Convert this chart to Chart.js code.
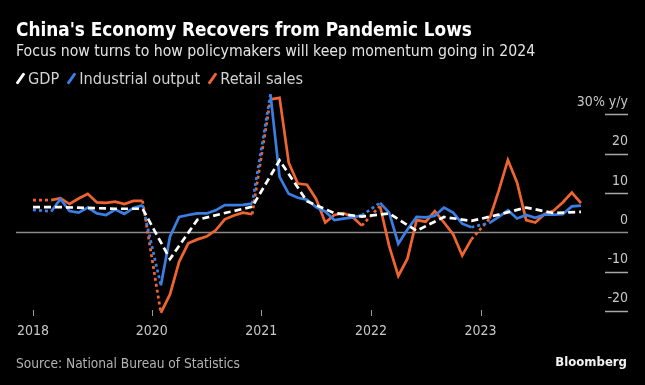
<!DOCTYPE html>
<html lang="en">
<head>
<meta charset="UTF-8">
<title>China's Economy Recovers from Pandemic Lows</title>
<script src="https://cdn.jsdelivr.net/npm/chart.js@4"></script>
<style>
  html, body { margin: 0; padding: 0; background: #000; }
  .frame { position: relative; width: 645px; height: 385px; overflow: hidden; background: #000;
           font-family: "DejaVu Sans Condensed", "DejaVu Sans", sans-serif; }
  .frame canvas { position: absolute; left: 0; top: 0; }
  .txt { position: absolute; white-space: nowrap; }
  .title { left: 16px; top: 19px; font-size: 18.8px; line-height: 22px; font-weight: bold; color: #fff; }
  .subtitle { left: 16px; top: 42px; font-size: 15.7px; line-height: 18px; color: #e4e4e4; }
  .legend { left: 16px; top: 70px; font-size: 16.2px; line-height: 18px; color: #d2d2d2; }
  .legend .item { margin-right: 8px; }
  .legend .swatch { display: inline-block; width: 3px; height: 13px; margin: 0 6px 0 3px;
                    transform: rotate(35deg); vertical-align: -1px; border-radius: 1px; }
  .source { left: 16px; top: 355px; font-size: 13.6px; line-height: 16px; color: #b4b4b4; }
  .brand { right: 18px; top: 354px; font-size: 13px; line-height: 16px; font-weight: bold; color: #f2f2f2; }
</style>
</head>
<body>
<div class="frame">
  <canvas id="chart" width="645" height="385"></canvas>
  <div class="txt title">China's Economy Recovers from Pandemic Lows</div>
  <div class="txt subtitle">Focus now turns to how policymakers will keep momentum going in 2024</div>
  <div class="txt legend" id="legend"></div>
  <div class="txt source">Source: National Bureau of Statistics</div>
  <div class="txt brand">Bloomberg</div>
</div>
<script>
// monthly y/y % change; Jan is folded into the combined Jan-Feb release, so it stays empty
const months = [
  '2018-12',
  '2019-01', '2019-02', '2019-03', '2019-04', '2019-05', '2019-06', '2019-07', '2019-08', '2019-09', '2019-10', '2019-11', '2019-12',
  '2020-01', '2020-02', '2020-03', '2020-04', '2020-05', '2020-06', '2020-07', '2020-08', '2020-09', '2020-10', '2020-11', '2020-12',
  '2021-01', '2021-02', '2021-03', '2021-04', '2021-05', '2021-06', '2021-07', '2021-08', '2021-09', '2021-10', '2021-11', '2021-12',
  '2022-01', '2022-02', '2022-03', '2022-04', '2022-05', '2022-06', '2022-07', '2022-08', '2022-09', '2022-10', '2022-11', '2022-12',
  '2023-01', '2023-02', '2023-03', '2023-04', '2023-05', '2023-06', '2023-07', '2023-08', '2023-09', '2023-10', '2023-11', '2023-12'
];

const industrialOutput = [
  5.7,
  null, 5.3, 8.5, 5.4, 5.0, 6.3, 4.8, 4.4, 5.8, 4.7, 6.2, 6.9,
  null, -13.5, -1.1, 3.9, 4.4, 4.8, 4.8, 5.6, 6.9, 6.9, 7.0, 7.3,
  null, 35.1, 14.1, 9.8, 8.8, 8.3, 6.4, 5.3, 3.1, 3.5, 3.8, 4.3,
  null, 7.5, 5.0, -2.9, 0.7, 3.9, 3.8, 4.2, 6.3, 5.0, 2.2, 1.3,
  null, 2.4, 3.9, 5.6, 3.5, 4.4, 3.7, 4.5, 4.5, 4.6, 6.6, 6.8
];

const retailSales = [
  8.2,
  null, 8.2, 8.7, 7.2, 8.6, 9.8, 7.6, 7.5, 7.8, 7.2, 8.0, 8.0,
  null, -20.5, -15.8, -7.5, -2.8, -1.8, -1.1, 0.5, 3.3, 4.3, 5.0, 4.6,
  null, 33.8, 34.2, 17.7, 12.4, 12.1, 8.5, 2.5, 4.4, 4.9, 3.9, 1.7,
  null, 6.7, -3.5, -11.1, -6.7, 3.1, 2.7, 5.4, 2.5, -0.5, -5.9, -1.8,
  null, 3.5, 10.6, 18.4, 12.7, 3.1, 2.5, 4.6, 5.5, 7.6, 10.1, 7.4
];

// quarterly GDP, plotted on the last month of each quarter
const gdpQuarters = [
  '2018-12', '2019-03', '2019-06', '2019-09', '2019-12', '2020-03', '2020-06', '2020-09', '2020-12',
  '2021-03', '2021-06', '2021-09', '2021-12', '2022-03', '2022-06', '2022-09', '2022-12',
  '2023-03', '2023-06', '2023-09', '2023-12'
];
const gdp = [6.4, 6.4, 6.2, 6.0, 6.0, -6.8, 3.2, 4.9, 6.5, 18.3, 7.9, 4.9, 4.0, 4.8, 0.4, 3.9, 2.9, 4.5, 6.3, 4.9, 5.2];

const xTickMonths = ['2018-12', '2020-01', '2021-01', '2022-01', '2023-01'];
const xTickLabels = ['2018', '2020', '2021', '2022', '2023'];
const yTicks = [30, 20, 10, 0, -10, -20];
const yUnit = '% y/y';

const colors = { gdp: '#ffffff', industrial: '#3b7fe4', retail: '#f0652f' };

// legend row above the plot
const legendItems = [
  ['GDP', colors.gdp],
  ['Industrial output', colors.industrial],
  ['Retail sales', colors.retail]
];
document.getElementById('legend').innerHTML = legendItems.map(function (it) {
  return '<span class="item"><span class="swatch" style="background:' + it[1] + '"></span>' + it[0] + '</span>';
}).join('');

function toPoints(values) {
  return values.map(function (v, i) { return { x: i, y: v }; });
}

// dotted joins across the missing January readings
const gapDash = function (ctx) {
  return (ctx.p0.skip || ctx.p1.skip) ? [3, 3] : undefined;
};

// axes: zero line, short right-hand ticks with labels sitting above them, year ticks below
const axisDecor = {
  id: 'axisDecor',
  beforeDatasetsDraw(chart) {
    const c = chart.ctx, x = chart.scales.x, y = chart.scales.y, area = chart.chartArea;
    c.save();
    c.lineWidth = 1.5;
    yTicks.forEach(function (t) {
      const py = Math.round(y.getPixelForValue(t)) + 0.5;
      c.strokeStyle = t === 0 ? '#8c8c8c' : '#a8a8a8';
      c.beginPath();
      c.moveTo(t === 0 ? area.left : area.right - 23, py);
      c.lineTo(area.right, py);
      c.stroke();
    });
    c.lineWidth = 1;
    c.strokeStyle = '#9a9a9a';
    xTickMonths.forEach(function (m) {
      const px = Math.round(x.getPixelForValue(months.indexOf(m))) + 0.5;
      c.beginPath();
      c.moveTo(px, 310);
      c.lineTo(px, 316);
      c.stroke();
    });
    c.restore();
  },
  afterDraw(chart) {
    const c = chart.ctx, x = chart.scales.x, y = chart.scales.y, area = chart.chartArea;
    c.save();
    c.font = '14px "DejaVu Sans Condensed", "DejaVu Sans", sans-serif';
    c.fillStyle = '#c8c8c8';
    c.textAlign = 'right';
    c.textBaseline = 'alphabetic';
    yTicks.forEach(function (t, i) {
      const py = y.getPixelForValue(t);
      c.fillText(i === 0 ? t + yUnit : String(t), area.right, py - 8.5);
    });
    c.textAlign = 'center';
    xTickMonths.forEach(function (m, i) {
      c.fillText(xTickLabels[i], x.getPixelForValue(months.indexOf(m)), 335);
    });
    c.restore();
  }
};

new Chart(document.getElementById('chart'), {
  type: 'line',
  data: {
    datasets: [
      {
        label: 'GDP',
        data: gdp.map(function (v, i) { return { x: months.indexOf(gdpQuarters[i]), y: v }; }),
        borderColor: colors.gdp,
        borderWidth: 2.7,
        borderDash: [7, 4]
      },
      {
        label: 'Industrial output',
        data: toPoints(industrialOutput),
        borderColor: colors.industrial,
        borderWidth: 2.7,
        spanGaps: true,
        segment: { borderDash: gapDash }
      },
      {
        label: 'Retail sales',
        data: toPoints(retailSales),
        borderColor: colors.retail,
        borderWidth: 2.7,
        spanGaps: true,
        segment: { borderDash: gapDash }
      }
    ]
  },
  options: {
    responsive: false,
    animation: false,
    events: [],
    layout: { padding: { left: 16, right: 17, top: 90.8, bottom: 66.2 } },
    elements: {
      line: { tension: 0, fill: false },
      point: { radius: 0 }
    },
    scales: {
      x: { type: 'linear', display: false, min: -1.86, max: 65.15 },
      y: { type: 'linear', display: false, min: -22, max: 36 }
    },
    plugins: {
      legend: { display: false },
      tooltip: { enabled: false }
    }
  },
  plugins: [axisDecor]
});
</script>
</body>
</html>
